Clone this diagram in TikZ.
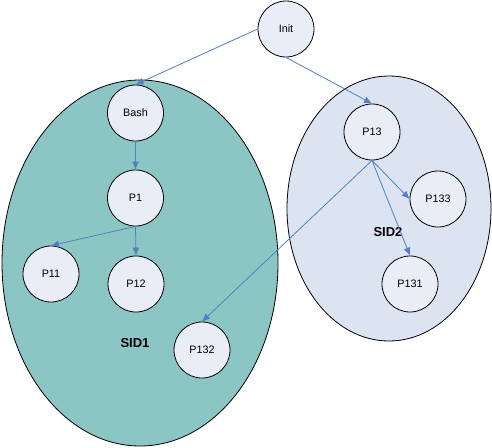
\documentclass[tikz,border=0pt]{standalone}
\usepackage{fontspec}
\setmainfont{Liberation Sans}
\usetikzlibrary{arrows.meta}
\definecolor{tealfill}{RGB}{140,198,196}
\definecolor{sidtwo}{RGB}{220,228,241}
\definecolor{procfill}{RGB}{232,237,248}
\definecolor{edgeblue}{RGB}{79,129,189}
\begin{document}
\begin{tikzpicture}[x=1pt,y=-1pt,
  proc/.style={circle,draw=black,line width=0.8pt,fill=procfill,minimum size=56pt,inner sep=0pt,font=\fontsize{10.8}{12}\selectfont},
  grp/.style={draw=black,line width=0.8pt},
  conn/.style={draw=edgeblue,line width=0.8pt,-{Latex[length=8pt,width=7pt]}},
  sid/.style={font=\fontsize{13}{15}\selectfont\bfseries}]
\useasboundingbox (0,0) rectangle (492,447);
\fill[white] (0,0) rectangle (492,447);
\draw[grp,fill=tealfill] (140,263) ellipse [x radius=138, y radius=183];
\draw[grp,fill=sidtwo] (389,208.5) ellipse [x radius=102, y radius=132.5];
\node[sid] (sid1) at (135,343) {SID1};
\node[sid] (sid2) at (388,232) {SID2};
\node[proc] (init) at (286,29) {Init};
\node[proc] (bash) at (135.5,113) {Bash};
\node[proc] (p1) at (135.5,198) {P1};
\node[proc] (p11) at (51,274) {P11};
\node[proc] (p12) at (136,284) {P12};
\node[proc] (p132) at (202,350) {P132};
\node[proc] (p13) at (372,132) {P13};
\node[proc] (p133) at (438,199) {P133};
\node[proc] (p131) at (410,284) {P131};
\draw[conn] (init.west) -- (bash.north);
\draw[conn] (init.south) -- (p13.north);
\draw[conn] (bash.south) -- (p1.north);
\draw[conn] (p1.south) -- (p11.north);
\draw[conn] (p1.south) -- (p12.north);
\draw[conn] (p13.south) -- (p133.west);
\draw[conn] (p13.south) -- (p131.north);
\draw[conn] (p13.south) -- (p132.north);
\end{tikzpicture}
\end{document}
